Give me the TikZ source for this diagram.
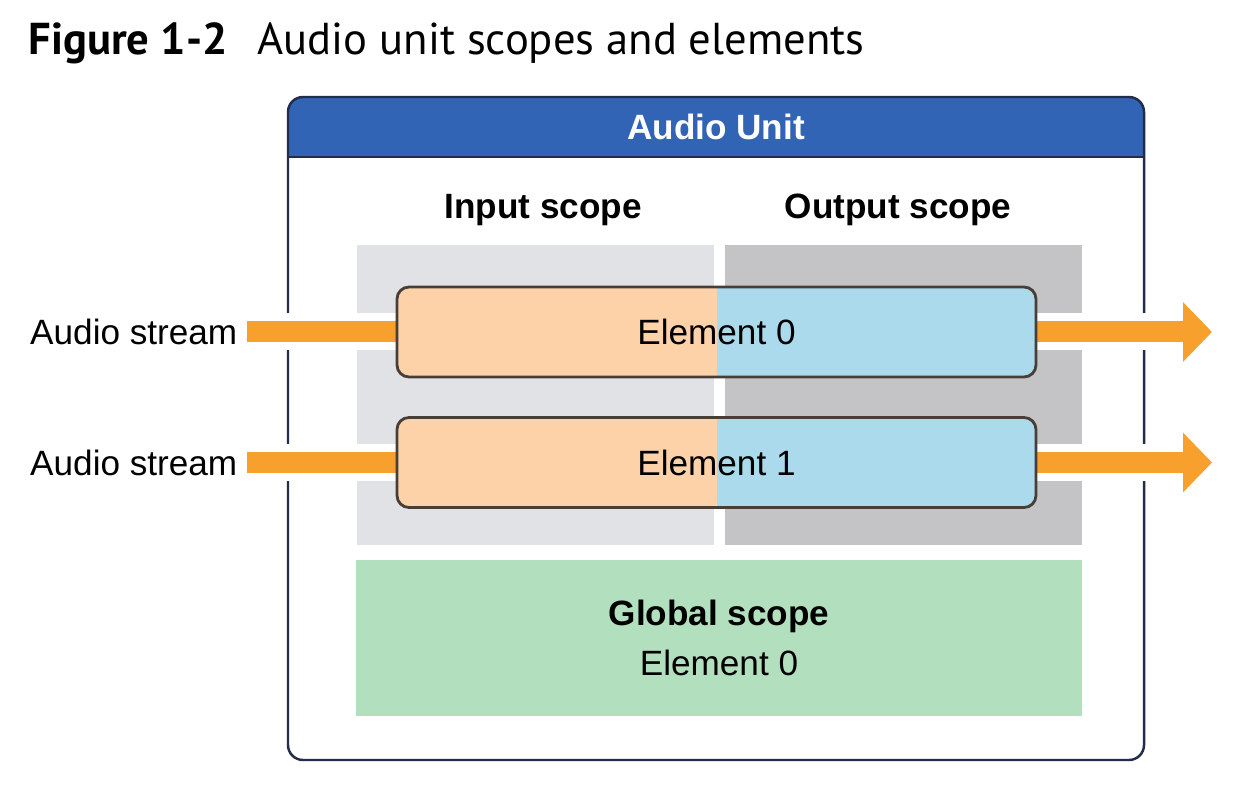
\documentclass[tikz,border=0pt]{standalone}
\usepackage{fontspec}
\setmainfont{Liberation Sans}
\newfontfamily\captionfont{PT Sans}
\usetikzlibrary{arrows.meta,positioning}

\definecolor{unitblue}{RGB}{50,100,182}
\definecolor{unitline}{RGB}{35,45,75}
\definecolor{ingray}{RGB}{224,226,229}
\definecolor{outgray}{RGB}{196,196,199}
\definecolor{peach}{RGB}{253,210,168}
\definecolor{skyblue}{RGB}{170,218,236}
\definecolor{streamorange}{RGB}{247,160,45}
\definecolor{globalgreen}{RGB}{178,224,190}
\definecolor{elemline}{RGB}{72,62,56}

\pgfdeclarelayer{boxes}
\pgfdeclarelayer{streams}
\pgfsetlayers{boxes,streams,main}

\tikzset{
  every node/.style={font=\fontsize{10}{12}\selectfont},
  region/.style={minimum width=3.57cm, minimum height=3.0cm, inner sep=0},
  scopelabel/.style={font=\fontsize{10}{12}\selectfont\bfseries},
  elembox/.style={draw=elemline, line width=0.8pt, rounded corners=0.12cm,
    minimum width=6.39cm, minimum height=0.9cm, inner sep=0,
    path picture={
      \fill[peach, sharp corners] (path picture bounding box.south west) rectangle (path picture bounding box.north);
      \fill[skyblue, sharp corners] (path picture bounding box.south) rectangle (path picture bounding box.north east);}},
  stream/.style={draw=streamorange, line width=0.21cm,
    preaction={draw=white, line width=0.37cm, arrows=-}},
  streamlabel/.style={anchor=east, inner sep=0, inner xsep=0.09cm}
}

\begin{document}
\begin{tikzpicture}
    \useasboundingbox (0,0) rectangle (12.36,7.88);
    % caption
    \node[anchor=base west, inner sep=0, font=\captionfont\fontsize{12.7}{15}\selectfont] (caption) at (0.28,7.33)
        {\textbf{Figure 1-2}\hspace{0.3cm}Audio unit scopes and elements};
    \begin{pgfonlayer}{boxes}
    \fill[white] (0,0) rectangle (12.36,7.88);
    % the audio unit with its blue title bar
    \node[draw=unitline, line width=0.7pt, rounded corners=0.15cm, minimum width=8.56cm, minimum height=6.63cm, inner sep=0,
        path picture={\fill[unitblue, sharp corners] ([yshift=-0.61cm]path picture bounding box.north west) rectangle (path picture bounding box.north east);}]
        (unit) at (7.16,3.595) {};
    \draw[unitline, line width=0.5pt] ([yshift=-0.61cm]unit.north west) -- ([yshift=-0.61cm]unit.north east);
    % scopes
    \node[region, fill=ingray] (inscope) at (5.35,3.93) {};
    \node[region, fill=outgray] (outscope) at (9.03,3.93) {};
    \end{pgfonlayer}
    \node[text=white, font=\fontsize{10}{12}\selectfont\bfseries] (unitname) at ([yshift=-0.31cm]unit.north) {Audio Unit};
    \node[scopelabel] (inlabel) at (5.43,5.78) {Input scope};
    \node[scopelabel] (outlabel) at (8.98,5.78) {Output scope};
    \node[fill=globalgreen, minimum width=7.26cm, minimum height=1.56cm, align=center,
        font=\fontsize{10}{14.2}\selectfont] (global) at (7.19,1.50) {\textbf{Global scope}\\Element 0};
    % elements
    \node[elembox] (el0) at (7.165,4.56) {Element 0};
    \node[elembox] (el1) at (7.165,3.255) {Element 1};
    % streams in and out
    \coordinate (in0) at (2.47,4.56);
    \coordinate (in1) at (2.47,3.255);
    \coordinate (out0) at (12.12,4.56);
    \coordinate (out1) at (12.12,3.255);
    \node[streamlabel] (src0) at (in0) {Audio stream};
    \node[streamlabel] (src1) at (in1) {Audio stream};
    \begin{pgfonlayer}{streams}
    \draw[stream] (in0) -- (el0.west);
    \draw[stream] (in1) -- (el1.west);
    \draw[stream, -{Triangle[length=0.29cm, width=0.58cm]}] (el0.east) -- (out0);
    \draw[stream, -{Triangle[length=0.29cm, width=0.58cm]}] (el1.east) -- (out1);
    \end{pgfonlayer}
\end{tikzpicture}
\end{document}
